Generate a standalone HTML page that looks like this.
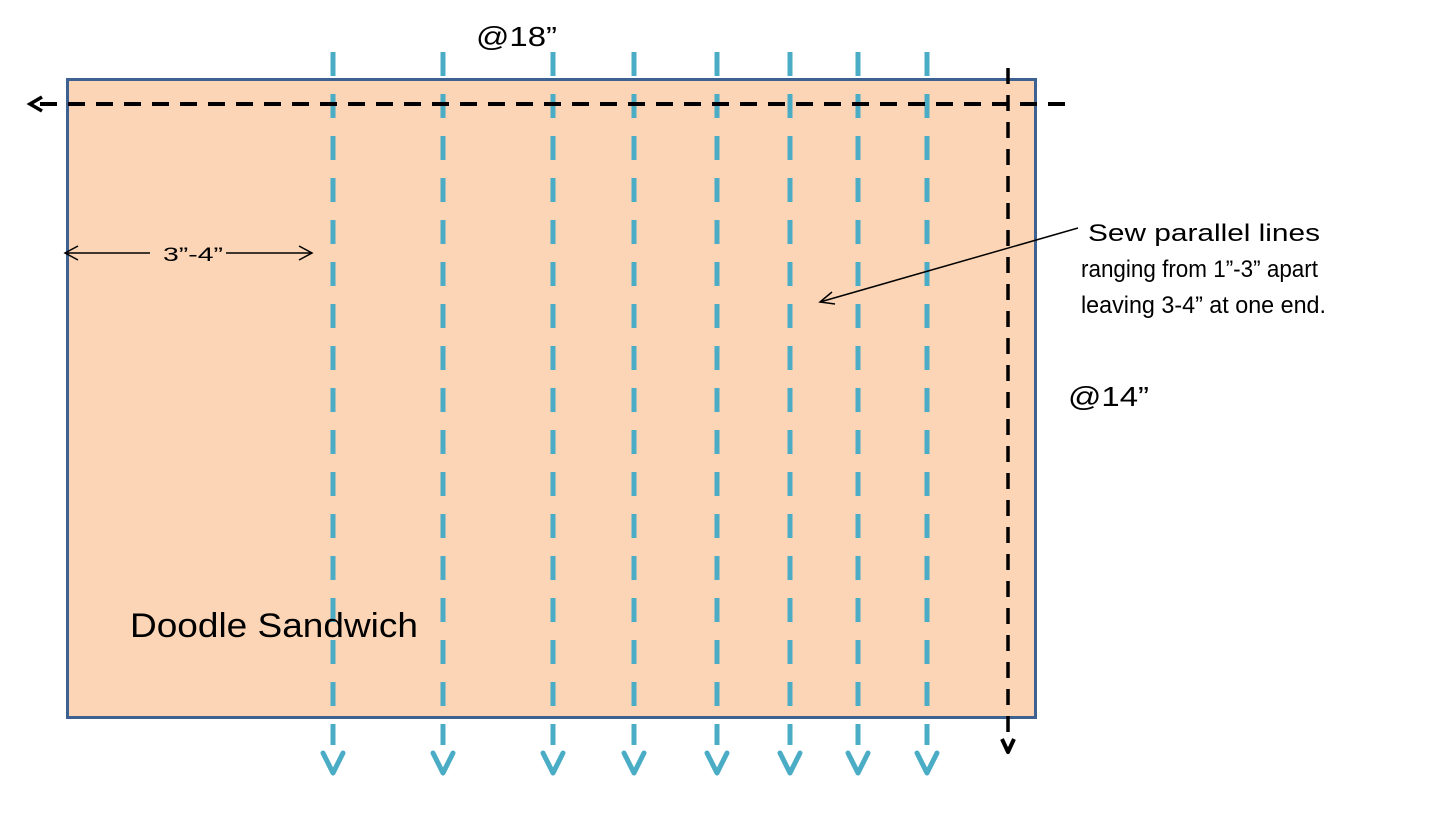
<!DOCTYPE html>
<html><head><meta charset="utf-8"><style>html,body{margin:0;padding:0;background:#fff;}svg{display:block}</style></head>
<body>
<svg width="1442" height="818" viewBox="0 0 1442 818" xmlns="http://www.w3.org/2000/svg" font-family="Liberation Sans, sans-serif">
<rect x="67.5" y="79.5" width="968" height="638" fill="#fbd5b5" stroke="#3d6190" stroke-width="3"/>
<g stroke="#4bacc6" stroke-width="5" fill="none" stroke-dasharray="24 18">
<line x1="333" y1="52" x2="333" y2="745"/>
<line x1="443" y1="52" x2="443" y2="745"/>
<line x1="553" y1="52" x2="553" y2="745"/>
<line x1="634" y1="52" x2="634" y2="745"/>
<line x1="717" y1="52" x2="717" y2="745"/>
<line x1="790" y1="52" x2="790" y2="745"/>
<line x1="858" y1="52" x2="858" y2="745"/>
<line x1="927" y1="52" x2="927" y2="745"/>
</g>
<g stroke="#4bacc6" stroke-width="5" fill="none" stroke-linecap="round" stroke-linejoin="round">
<polyline points="323,753 333,773 343,753"/>
<polyline points="433,753 443,773 453,753"/>
<polyline points="543,753 553,773 563,753"/>
<polyline points="624,753 634,773 644,753"/>
<polyline points="707,753 717,773 727,753"/>
<polyline points="780,753 790,773 800,753"/>
<polyline points="848,753 858,773 868,753"/>
<polyline points="917,753 927,773 937,753"/>
</g>
<line x1="1065" y1="104" x2="36" y2="104" stroke="#000" stroke-width="4" stroke-dasharray="17 11"/>
<polyline points="42,97 30,104 42,111" stroke="#000" stroke-width="3.5" fill="none"/>
<line x1="1008" y1="68" x2="1008" y2="740" stroke="#000" stroke-width="3.5" stroke-dasharray="16 11"/>
<polyline points="1002,739 1008,752 1014,739" stroke="#000" stroke-width="4" fill="none" stroke-linejoin="round"/>
<g stroke="#000" stroke-width="1.5" fill="none">
<line x1="65" y1="253" x2="150" y2="253"/>
<line x1="226" y1="253" x2="312" y2="253"/>
<polyline points="78,246 65,253 78,260"/>
<polyline points="299,246 312,253 299,260"/>
<line x1="1078" y1="228" x2="820" y2="302"/>
<polyline points="832,292 820,302 835,304"/>
</g>
<text x="163" y="261" font-size="19" textLength="60" lengthAdjust="spacingAndGlyphs">3”-4”</text>
<text x="476" y="46" font-size="28" textLength="81" lengthAdjust="spacingAndGlyphs">@18”</text>
<text x="1068" y="406" font-size="28" textLength="81" lengthAdjust="spacingAndGlyphs">@14”</text>
<text x="130" y="637" font-size="34" textLength="288" lengthAdjust="spacingAndGlyphs">Doodle Sandwich</text>
<text x="1088" y="241" font-size="24" textLength="232" lengthAdjust="spacingAndGlyphs">Sew parallel lines</text>
<text x="1081" y="277" font-size="24" textLength="237" lengthAdjust="spacingAndGlyphs">ranging from 1”-3” apart</text>
<text x="1081" y="313" font-size="24" textLength="245" lengthAdjust="spacingAndGlyphs">leaving 3-4” at one end.</text>
</svg>
</body></html>
